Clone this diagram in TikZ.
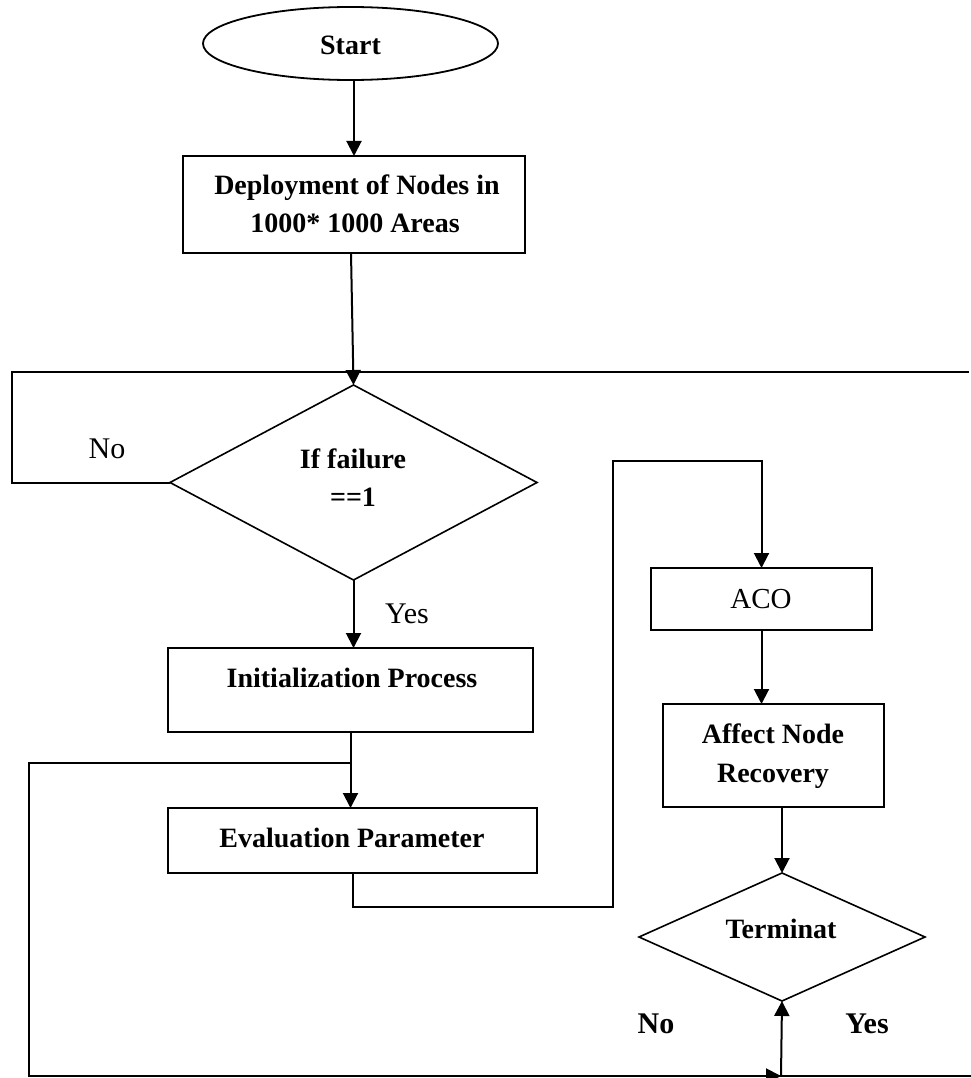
\documentclass[tikz,border=0pt]{standalone}
\usepackage{fontspec}
\setmainfont{Liberation Serif}
\usetikzlibrary{shapes.geometric,arrows.meta}
\tikzset{
  ln/.style={line width=2pt, line join=miter},
  arr/.style={ln, -{Triangle[length=15pt,width=15pt]}},
  box/.style={draw, line width=2pt, rectangle, inner sep=0pt, outer sep=0pt},
  dia/.style={draw, line width=1.6pt, diamond, inner sep=0pt, outer sep=0pt},
  oval/.style={draw, line width=1.8pt, ellipse, inner sep=0pt, outer sep=0pt},
  btxt/.style={font=\fontsize{28}{38}\selectfont\bfseries, inner sep=0pt, anchor=base},
  rtxt/.style={font=\fontsize{30}{38}\selectfont, inner sep=0pt, anchor=base},
  rbtxt/.style={font=\fontsize{30}{38}\selectfont\bfseries, inner sep=0pt, anchor=base}
}
\begin{document}
\begin{tikzpicture}[x=1pt,y=-1pt]
\useasboundingbox (0,0) rectangle (971,1078);
% shapes
\node[oval, minimum width=295, minimum height=73] (start) at (350.5,43.5) {};
\node[btxt] (starttxt) at (350.5,55) {Start};
\node[box, minimum width=342, minimum height=97] (dep) at (354,204.5) {};
\node[btxt] (deptxta) at (357,194) {Deployment of Nodes in};
\node[btxt] (deptxtb) at (355,232) {1000* 1000 Areas};
\node[dia, minimum width=367, minimum height=195] (dA) at (353.5,482.5) {};
\node[btxt] (dAtxta) at (353,468) {If failure};
\node[btxt] (dAtxtb) at (353,506) {==1};
\node[box, minimum width=365, minimum height=84] (init) at (350.5,690) {};
\node[btxt] (inittxt) at (352,687) {Initialization Process};
\node[box, minimum width=369, minimum height=65] (eval) at (352.5,840.5) {};
\node[btxt] (evaltxt) at (352,847) {Evaluation Parameter};
\node[box, minimum width=221, minimum height=62] (aco) at (761.5,599) {};
\node[rtxt, font=\fontsize{29}{38}\selectfont] (acotxt) at (761,608) {ACO};
\node[box, minimum width=221, minimum height=103] (aff) at (773.5,755.5) {};
\node[btxt] (afftxta) at (773,743) {Affect Node};
\node[btxt] (afftxtb) at (773,782) {Recovery};
\node[dia, minimum width=286, minimum height=128] (term) at (782,937) {};
\node[btxt] (termtxt) at (781,938) {Terminat};
% labels
\node[rtxt] (no1) at (107,458) {No};
\node[rtxt] (yes1) at (407,623) {Yes};
\node[rbtxt] (no2) at (656,1033) {No};
\node[rbtxt] (yes2) at (867,1033) {Yes};
% coordinates
\coordinate (tl) at (12,372);
\coordinate (tr) at (969,372);
\coordinate (fb) at (350.5,763);
\coordinate (fbl) at (29,763);
\coordinate (bl) at (29,1076);
\coordinate (bj) at (781,1076);
\coordinate (br) at (971,1076);
\coordinate (c2) at (613,907);
\coordinate (c3) at (613,461);
% connectors
\draw[arr] (start.south -| dep.north) -- (dep.north);
\draw[arr] ([xshift=-3pt]dep.south) -- (dA.north);
\draw[ln] (tr) -- (tl) |- (dA.west);
\draw[arr] (dA.south) -- (dA.south |- init.north);
\draw[arr] (init.south) -- (init.south |- eval.north);
\draw[ln] (fb) -- (fbl) -- (bl) -- (br);
\draw[arr] (bl) -- (bj);
\draw[arr] (bj) -- (term.south);
\draw[arr] (eval.south) |- (c2) -- (c3) -| (aco.north);
\draw[arr] (aco.south) -- (aco.south |- aff.north);
\draw[arr] (aff.south -| term.north) -- (term.north);
\end{tikzpicture}
\end{document}
